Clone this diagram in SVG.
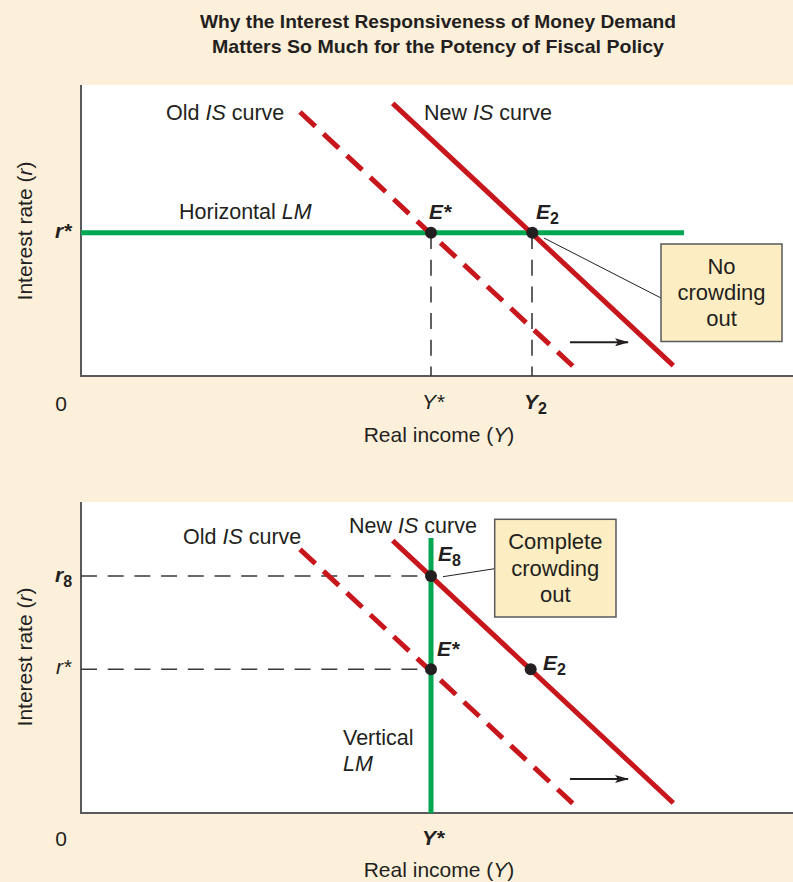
<svg xmlns="http://www.w3.org/2000/svg" width="793" height="882" viewBox="0 0 793 882">
<defs>
<style>
text{font-family:"Liberation Sans",Arial,sans-serif;fill:#231F20;}
.t{font-size:19px;font-weight:bold;text-anchor:middle;}
.lb{font-size:21.5px;}
.ax{font-size:21px;}
.pl{font-size:21px;}
.it{font-style:italic;}
.bi{font-style:italic;font-weight:bold;}
.sub{font-size:16px;font-weight:bold;font-style:normal;}
.axis{stroke:#58595B;stroke-width:2;fill:none;}
.guide{stroke:#3A3A3A;stroke-width:1.6;stroke-dasharray:16 10.7;fill:none;}
.old{stroke:#C8161D;stroke-width:5;stroke-dasharray:21 11;fill:none;}
.new{stroke:#C8161D;stroke-width:5;fill:none;}
.lm{stroke:#00A651;stroke-width:5;fill:none;}
.pt{fill:#231F20;}
.box{fill:#FDEDC2;stroke:#58595B;stroke-width:1.5;}
.lead{stroke:#231F20;stroke-width:1;fill:none;}
.arr{stroke:#231F20;stroke-width:2;fill:none;marker-end:url(#ah);}
.bt{font-size:22px;text-anchor:middle;}
</style>
<marker id="ah" viewBox="0 0 14 8" refX="13" refY="4" markerWidth="14" markerHeight="8" markerUnits="userSpaceOnUse" orient="auto">
<path d="M0,0 L14,4 L0,8 L3,4 Z" fill="#231F20"/>
</marker>
</defs>
<rect x="0" y="0" width="793" height="882" fill="#FDF0DB"/>

<g id="title">
<text class="t" x="438" y="28" textLength="476" lengthAdjust="spacingAndGlyphs">Why the Interest Responsiveness of Money Demand</text>
<text class="t" x="438" y="53" textLength="452" lengthAdjust="spacingAndGlyphs">Matters So Much for the Potency of Fiscal Policy</text>
</g>

<!-- Top panel -->
<g id="top-panel">
<rect x="81" y="85" width="712" height="291" fill="#FFFFFF"/>
<path class="axis" d="M81,85 V376 H793"/>
<text class="ax" transform="translate(32,231) rotate(-90)" text-anchor="middle">Interest rate (<tspan class="it">r</tspan>)</text>
<text class="ax" x="61" y="411" text-anchor="middle">0</text>
<text class="ax" x="439" y="442" text-anchor="middle">Real income (<tspan class="it">Y</tspan>)</text>
<text class="ax it" x="433" y="409" text-anchor="middle">Y*</text>
<text class="ax bi" x="524" y="409">Y<tspan class="sub" dy="5">2</tspan></text>
<text class="ax bi" x="55" y="238">r*</text>
</g>

<g id="connectors-top">
<path class="guide" d="M431,233 V376"/>
<path class="guide" d="M532,233 V376"/>
<path class="lm" d="M81,232.7 H684"/>
<path class="old" d="M300,112 L572.7,366"/>
<path class="new" d="M392.7,103.3 L673.3,365.7"/>
<path class="arr" d="M570,342.3 H628"/>
<path class="lead" d="M544,238 L661,298"/>
</g>

<g id="top-labels">
<text class="lb" x="166" y="120">Old <tspan class="it">IS</tspan> curve</text>
<text class="lb" x="424" y="120">New <tspan class="it">IS</tspan> curve</text>
<text class="lb" x="179" y="219">Horizontal <tspan class="it">LM</tspan></text>
</g>

<g id="E-star-top">
<circle class="pt" cx="431" cy="232.7" r="6"/>
<text class="pl bi" x="429" y="219">E*</text>
</g>
<g id="E2-top">
<circle class="pt" cx="532.3" cy="232.7" r="6"/>
<text class="pl bi" x="536" y="219">E<tspan class="sub" dy="5">2</tspan></text>
</g>
<g id="no-crowding">
<rect class="box" x="661" y="244" width="121" height="97.5"/>
<text class="bt" x="721.5" y="274">No</text>
<text class="bt" x="721.5" y="300">crowding</text>
<text class="bt" x="721.5" y="326">out</text>
</g>

<!-- Bottom panel -->
<g id="bottom-panel">
<rect x="81" y="502" width="712" height="311" fill="#FFFFFF"/>
<path class="axis" d="M81,502 V813 H793"/>
<text class="ax" transform="translate(32,657) rotate(-90)" text-anchor="middle">Interest rate (<tspan class="it">r</tspan>)</text>
<text class="ax" x="61" y="846" text-anchor="middle">0</text>
<text class="ax" x="439" y="877" text-anchor="middle">Real income (<tspan class="it">Y</tspan>)</text>
<text class="ax bi" x="433" y="845" text-anchor="middle">Y*</text>
<text class="ax bi" x="55" y="582">r<tspan class="sub" dy="5">8</tspan></text>
<text class="ax it" x="56" y="674">r*</text>
</g>

<g id="connectors-bottom">
<path class="guide" d="M81,576 H431"/>
<path class="guide" d="M81,669.3 H431"/>
<path class="lm" d="M431,538 V813"/>
<path class="old" d="M300,549.3 L572.7,803.3"/>
<path class="new" d="M392.7,540.6 L673.3,803"/>
<path class="arr" d="M570,779 H628"/>
<path class="lead" d="M443,576.7 L494.7,568.7"/>
</g>

<g id="bottom-labels">
<text class="lb" x="183" y="544">Old <tspan class="it">IS</tspan> curve</text>
<text class="lb" x="349" y="533">New <tspan class="it">IS</tspan> curve</text>
<text class="lb" x="343" y="745">Vertical</text>
<text class="lb it" x="343" y="771">LM</text>
</g>

<g id="E8-bottom">
<circle class="pt" cx="431" cy="576" r="6"/>
<text class="pl bi" x="438" y="561">E<tspan class="sub" dy="5">8</tspan></text>
</g>
<g id="E-star-bottom">
<circle class="pt" cx="431" cy="669.3" r="6"/>
<text class="pl bi" x="437" y="656">E*</text>
</g>
<g id="E2-bottom">
<circle class="pt" cx="530.7" cy="669.3" r="6"/>
<text class="pl bi" x="543" y="670">E<tspan class="sub" dy="5">2</tspan></text>
</g>
<g id="complete-crowding">
<rect class="box" x="494.7" y="519.3" width="121.3" height="97.7"/>
<text class="bt" x="555.3" y="549">Complete</text>
<text class="bt" x="555.3" y="576">crowding</text>
<text class="bt" x="555.3" y="602">out</text>
</g>
</svg>
